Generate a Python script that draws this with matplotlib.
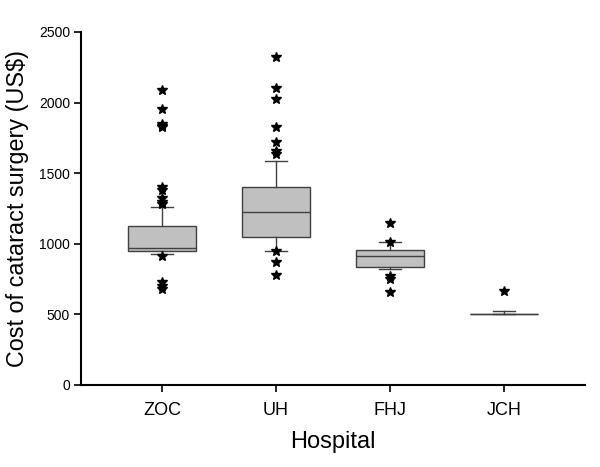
import matplotlib
matplotlib.use("Agg")
import matplotlib.pyplot as plt

# values (US$)
hospitales = ["ZOC", "UH", "FHJ", "JCH"]
q1 = [951, 1050, 838, 503]
medianas = [968, 1225, 916, 503]
q3 = [1128, 1400, 956, 503]
bigote_inf = [930, 951, 824, 503]
bigote_sup = [1263, 1588, 1010, 524]
atipicos = [
    [2087, 1955, 1850, 1835, 1825, 1404, 1381, 1322, 1298, 1282, 914, 732, 701, 678],
    [2320, 2101, 2025, 1825, 1719, 1660, 1634, 950, 869, 779],
    [1147, 1015, 772, 751, 657],
    [668],
]

plt.rcParams["font.family"] = ["Liberation Sans", "DejaVu Sans"]

stats = []
for i, h in enumerate(hospitales):
    stats.append({
        "label": h,
        "med": medianas[i],
        "q1": q1[i],
        "q3": q3[i],
        "whislo": bigote_inf[i],
        "whishi": bigote_sup[i],
        "fliers": atipicos[i],
    })

fig = plt.figure(figsize=(6, 4.67), dpi=100)
ax = fig.add_axes([0.135, 0.1756, 0.84, 0.756])

gris = "#404040"
ax.bxp(stats, positions=range(1, 5), widths=0.6, capwidths=0.19,
       patch_artist=True,
       boxprops=dict(facecolor="#c0c0c0", edgecolor=gris, linewidth=1.0),
       medianprops=dict(color=gris, linewidth=1.0),
       whiskerprops=dict(color=gris, linewidth=1.0),
       capprops=dict(color=gris, linewidth=1.0),
       flierprops=dict(marker="*", markerfacecolor="black", markeredgecolor="black",
                       markersize=7, linestyle="none"))

ax.set_xlim(0.29, 4.71)
ax.set_ylim(0, 2500)
ax.set_yticks([0, 500, 1000, 1500, 2000, 2500])
ax.set_xticks(range(1, 5))
ax.set_xticklabels(hospitales, fontsize=13)
for t in ax.get_yticklabels():
    t.set_fontsize(10)

ax.spines["top"].set_visible(False)
ax.spines["right"].set_visible(False)
ax.spines["left"].set_linewidth(1.5)
ax.spines["bottom"].set_linewidth(1.5)
ax.tick_params(axis="y", direction="out", length=5, width=1.2, pad=3)
ax.tick_params(axis="x", direction="out", length=5, width=1.2, pad=7)

ax.set_ylabel("Cost of cataract surgery (US$)", fontsize=16.8, labelpad=7)
ax.set_xlabel("Hospital", fontsize=17, labelpad=9)

fig.savefig("out.png", dpi=100)
